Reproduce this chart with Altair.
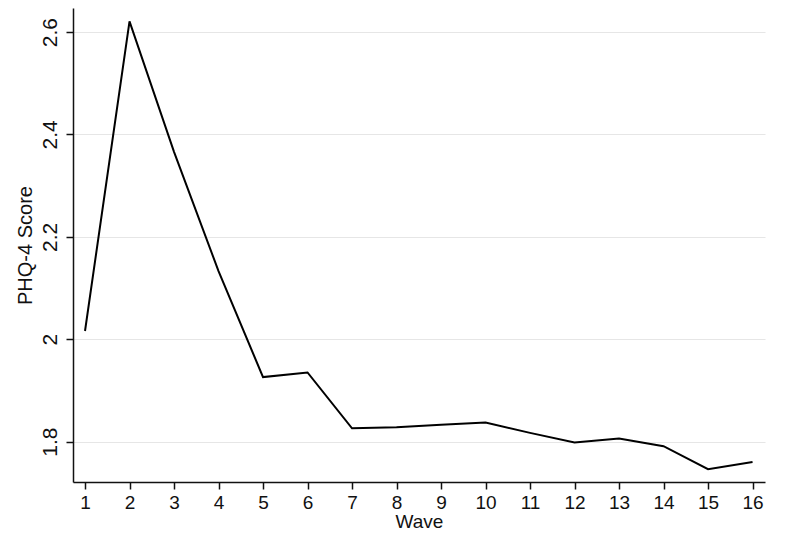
import altair as alt
import pandas as pd

waves = list(range(1, 17))
phq4 = [2.016, 2.621, 2.366, 2.133, 1.926, 1.935, 1.826, 1.828,
        1.833, 1.837, 1.817, 1.798, 1.806, 1.791, 1.746, 1.760]
x_ticks = list(range(1, 17))
y_ticks = [1.8, 2.0, 2.2, 2.4, 2.6]

df = pd.DataFrame({"Wave": waves, "PHQ4": phq4})

font = "Liberation Sans"

chart = alt.Chart(df).mark_line(color="black", strokeWidth=2).encode(
    x=alt.X("Wave:Q",
            scale=alt.Scale(domain=[0.73, 16.28], nice=False, zero=False),
            axis=alt.Axis(values=x_ticks, title="Wave", grid=False,
                          labelFontSize=19, titleFontSize=19,
                          labelPadding=4, titlePadding=0,
                          tickSize=7, labelFlush=False)),
    y=alt.Y("PHQ4:Q",
            scale=alt.Scale(domain=[1.721, 2.647], nice=False, zero=False),
            axis=alt.Axis(values=y_ticks, title="PHQ-4 Score", grid=True,
                          format=".1~f", labelAngle=270,
                          labelAlign="center", labelBaseline="bottom",
                          labelFontSize=21, titleFontSize=20,
                          labelPadding=6, titlePadding=4,
                          tickSize=7, labelFlush=False)),
).properties(
    width=692,
    height=474,
    autosize=alt.AutoSizeParams(type="none"),
    padding={"left": 65, "top": 0, "right": 14, "bottom": 51},
).configure_view(
    stroke=None
).configure_axis(
    domainColor="#111111",
    domainWidth=1.5,
    tickColor="#111111",
    tickWidth=1.5,
    gridColor="#e6e6e6",
    gridWidth=1.2,
    labelColor="#111111",
    titleColor="#111111",
    labelFont=font,
    titleFont=font,
    titleFontWeight="normal",
)

chart.save("out.html", embed_options={"renderer": "svg", "actions": False})
